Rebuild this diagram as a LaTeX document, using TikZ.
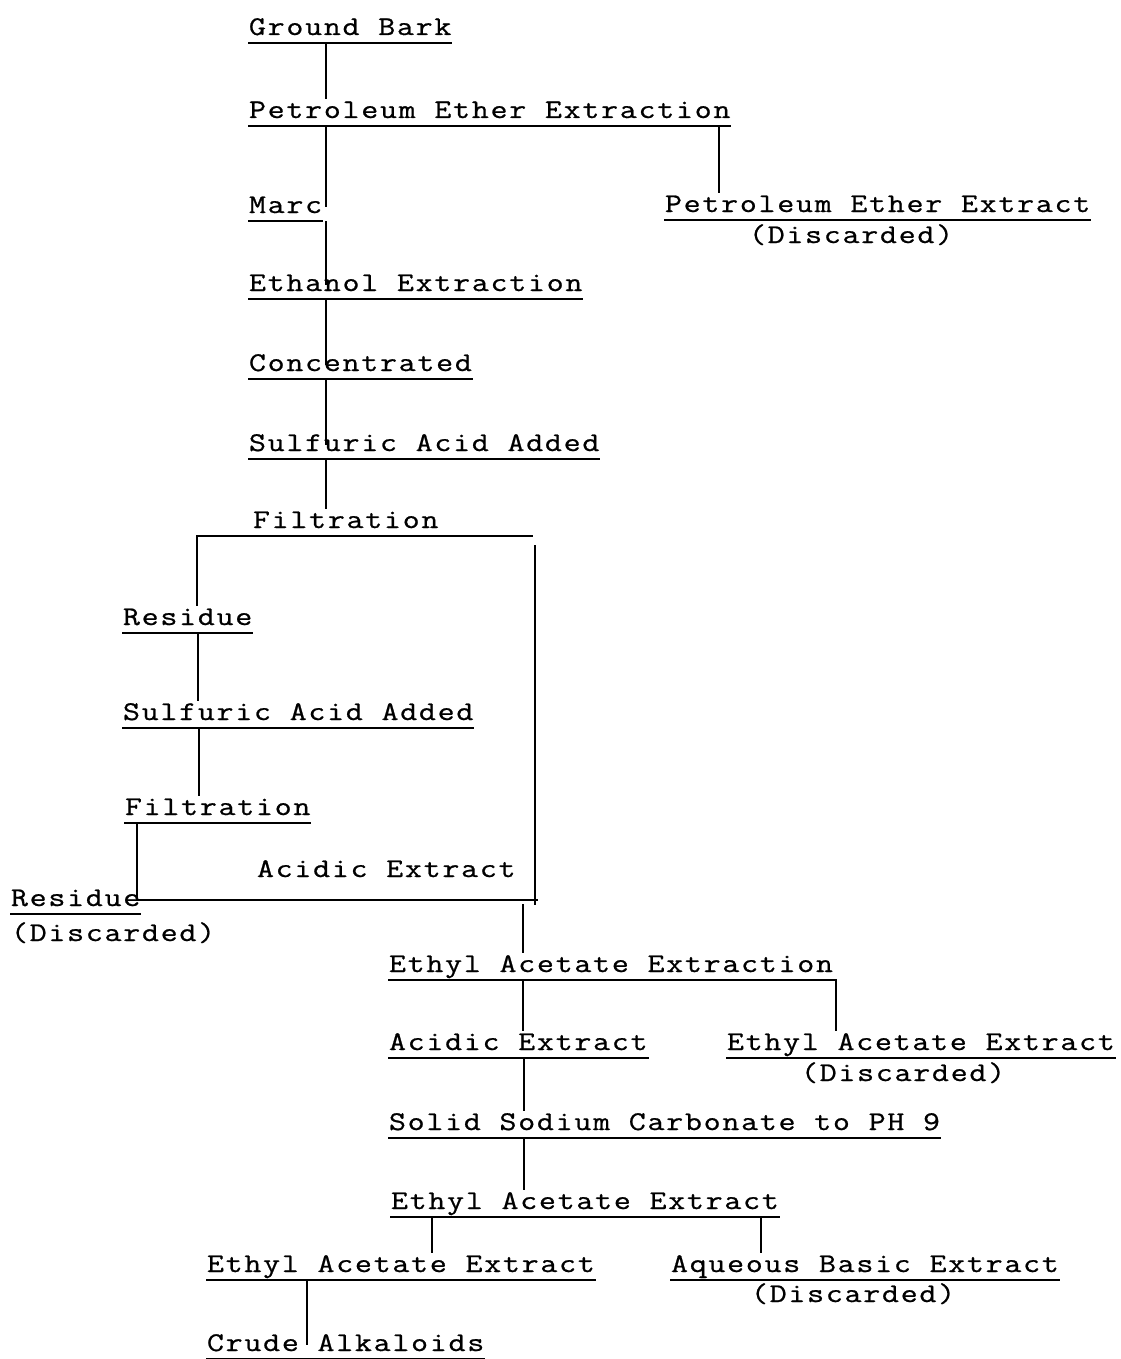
\documentclass[tikz,border=0pt]{standalone}
\usepackage{fontspec}
\newfontfamily\typefont{Latin Modern Mono}[FakeStretch=1.22, LetterSpace=6.5, FakeBold=0.8]

\begin{document}
\begin{tikzpicture}[x=0.5pt, y=-0.5pt, line width=1pt,
    stage/.style={anchor=base west, inner xsep=0pt, inner ysep=0.8pt, text height=8.4pt, text depth=2.7pt,
        font=\typefont\fontsize{13.5pt}{16pt}\selectfont},
    ul/.style={stage, append after command={(\tikzlastnode.south west) edge (\tikzlastnode.south east)}}]
    \useasboundingbox (0,0) rectangle (1120,1359);

    % main line
    \node[ul] (gb) at (248,35) {Ground Bark};
    \node[ul] (pee) at (248,118) {Petroleum Ether Extraction};
    \node[ul] (marc) at (248,213) {Marc};
    \node[ul] (pext) at (664,212) {Petroleum Ether Extract};
    \node[stage] (pdisc) at (748,243) {(Discarded)};
    \node[ul] (eth) at (248,291) {Ethanol Extraction};
    \node[ul] (conc) at (248,371) {Concentrated};
    \node[ul] (sulf) at (248,451) {Sulfuric Acid Added};
    \node[stage] (filt) at (252,528) {Filtration};

    % residue branch
    \node[ul] (res) at (122,625) {Residue};
    \node[ul] (sulfb) at (122,720) {Sulfuric Acid Added};
    \node[ul] (filtb) at (124,815) {Filtration};
    \node[stage] (acid) at (256,877) {Acidic Extract};
    \node[ul] (resb) at (10,906) {Residue};
    \node[stage] (resdisc) at (10,941) {(Discarded)};

    % acidic extract
    \node[ul] (eae) at (388,972) {Ethyl Acetate Extraction};
    \node[ul] (acidb) at (388,1050) {Acidic Extract};
    \node[ul] (eaext) at (726,1050) {Ethyl Acetate Extract};
    \node[stage] (eadisc) at (800,1081) {(Discarded)};
    \node[ul] (solid) at (388,1130) {Solid Sodium Carbonate to PH 9};
    \node[ul] (eaeb) at (390,1209) {Ethyl Acetate Extract};
    \node[ul] (eaec) at (206,1272) {Ethyl Acetate Extract};
    \node[ul] (aq) at (670,1272) {Aqueous Basic Extract};
    \node[stage] (aqdisc) at (750,1302) {(Discarded)};
    \node[ul] (crude) at (206,1351) {Crude Alkaloids};

    \draw (gb.south -| 326,0) -- (pee.north -| 326,0);
    \draw (pee.south -| 326,0) -- (marc.center -| 326,0);
    \draw (pee.south -| 719,0) -- (pext.north -| 719,0);
    \draw (marc.south -| 326,0) -- (eth.center -| 326,0);
    \draw (eth.south -| 326,0) -- (conc.center -| 326,0);
    \draw (conc.south -| 326,0) -- (sulf.center -| 326,0);
    \draw (sulf.south -| 326,0) -- (filt.north -| 326,0);

    % filtration split
    \coordinate (split) at (535,545);
    \coordinate (join) at (523,904);
    \draw (res.north -| 197,0) |- (filt.south -| 533,0);
    \draw (split) -- ++(0,360);
    \draw (res.south -| 198,0) -- (sulfb.north -| 198,0);
    \draw (sulfb.south -| 199,0) -- (filtb.north -| 199,0);
    \draw (filtb.south -| 137,0) |- (538,900);
    \draw (join) -- (eae.north -| join);

    \draw (eae.south -| 523,0) -- (acidb.north -| 523,0);
    \draw (eae.south east) -| (eaext.north -| 836,0);
    \draw (acidb.south -| 524,0) -- (solid.north -| 524,0);
    \draw (solid.south -| 524,0) -- (eaeb.north -| 524,0);
    \draw (eaeb.south -| 432,0) -- (eaec.north -| 432,0);
    \draw (eaeb.south -| 761,0) -- (aq.north -| 761,0);
    \draw (eaec.south -| 307,0) -- (crude.center -| 307,0);
\end{tikzpicture}
\end{document}
